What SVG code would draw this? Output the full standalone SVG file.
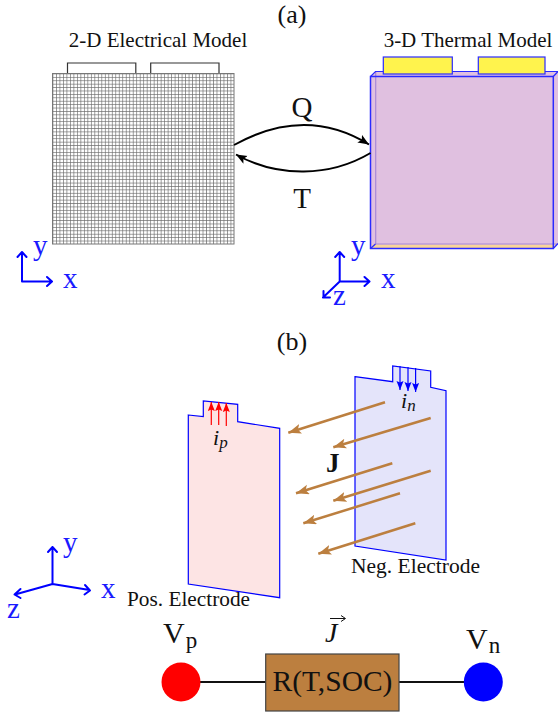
<svg xmlns="http://www.w3.org/2000/svg" width="558" height="716" viewBox="0 0 558 716">
<style>
text{font-family:"Liberation Serif","Times New Roman",serif;fill:#111}
.ax{fill:#1a1aff;font-size:29px}
.axl{fill:none;stroke:#0000ff;stroke-width:2;stroke-linejoin:round;stroke-linecap:round}
.t{fill:none;stroke:#bc7f3f;stroke-width:2.500;marker-end:url(#tan)}
.b{stroke:#0000ff;stroke-width:1.200;marker-end:url(#blue)}
.r{stroke:#ff0000;stroke-width:1.200;marker-end:url(#red)}
.el{stroke:#0000ff;stroke-width:1.200}
.c{fill:none;stroke:#000;stroke-width:2}
.tab3{fill:#fff34d;stroke:#2a2aff;stroke-width:1.200}
</style>
<defs>
<marker id="tan" markerUnits="userSpaceOnUse" markerWidth="16" markerHeight="12" refX="13" refY="5" orient="auto"><path d="M0 0L13 5L0 10L3 5Z" fill="#bc7f3f"/></marker>
<marker id="blue" markerUnits="userSpaceOnUse" markerWidth="10" markerHeight="12" refX="9" refY="3.500" orient="auto"><path d="M0 0L9 3.500L0 7L1.500 3.500Z" fill="#0000ff"/></marker>
<marker id="red" markerUnits="userSpaceOnUse" markerWidth="10" markerHeight="12" refX="9" refY="3.500" orient="auto"><path d="M0 0L9 3.500L0 7L1.500 3.500Z" fill="#ff0000"/></marker>
<marker id="blk" markerUnits="userSpaceOnUse" markerWidth="14" markerHeight="12" refX="11" refY="4.500" orient="auto"><path d="M0 0L11 4.500L0 9L2.500 4.500Z" fill="#000"/></marker>
<pattern id="grid" patternUnits="userSpaceOnUse" x="52.500" y="73.500" width="3.490" height="3.410"><path d="M0 0H3.490M0 0V3.410" fill="none" stroke="#6a6a6a" stroke-width="1.300"/></pattern>
</defs>
<text x="292" y="23" font-size="26" text-anchor="middle">(a)</text>
<text x="292" y="350" font-size="26" text-anchor="middle">(b)</text>

<g id="electrical-model">
<text x="158" y="47" font-size="21" text-anchor="middle">2-D Electrical Model</text>
<path d="M67.500 73V63H135.800V73M150.700 73V63H219V73" fill="none" stroke="#333" stroke-width="1.200"/>
<rect x="52.500" y="73.500" width="181.500" height="170.500" fill="url(#grid)" stroke="#777" stroke-width="1"/>
</g>

<g id="thermal-model">
<text x="468" y="47" font-size="21" text-anchor="middle">3-D Thermal Model</text>
<path d="M370.500 76.500L375.500 71.500H558V243.500L553 248.500H370.500Z" fill="#e0c0e0"/>
<path d="M372 244.500H555V248H372Z" fill="#f8d49a"/>
<path d="M375.700 244H558M375.700 71.500V244" fill="none" stroke="#a888d8" stroke-width="1.200"/>
<path d="M370.500 76.500L375.500 71.500H558M370.500 248.500L375.500 244M553.300 76.500L558 71.500M553.300 248.500L558 243.500" fill="none" stroke="#2a2aff" stroke-width="1.200"/>
<rect x="370.500" y="76.500" width="182.800" height="172" fill="none" stroke="#2a2aff" stroke-width="1.500"/>
<rect class="tab3" x="383.300" y="57" width="69" height="17"/>
<rect class="tab3" x="478.300" y="57" width="66.700" height="17"/>
</g>

<g id="connectors">
<path class="c" d="M234 145C270 125 318 113 369 144.500" marker-end="url(#blk)"/>
<path class="c" d="M370.500 153C330 177 278 178 236 154.500" marker-end="url(#blk)"/>
<path d="M200 682H266M399 682H464" fill="none" stroke="#111" stroke-width="2"/>
</g>
<text x="302" y="117" font-size="29" text-anchor="middle">Q</text>
<text x="302" y="208" font-size="29" text-anchor="middle">T</text>

<g id="axes-a-left">
<path class="axl" d="M22 281.500V252.500M17.500 257L22 252L26.500 257M22 281.500H51.500M47 277L52 281.500L47 286"/>
<text class="ax" x="33" y="255">y</text>
<text class="ax" x="63" y="288">x</text>
</g>
<g id="axes-a-right">
<path class="axl" d="M339.700 281.500V252.500M335.200 257L339.700 252L344.200 257M339.700 281.500H369M364.500 277L369.500 281.500L364.500 286M339.700 281.500L323 297.500M323.500 291V297.500H330"/>
<text class="ax" x="351" y="255">y</text>
<text class="ax" x="381" y="288">x</text>
<text class="ax" x="333" y="305">z</text>
</g>

<g id="neg-electrode">
<path class="el" d="M355 376.700L392.700 381.700V366L430.700 371V387.300L446 390.700V560L355 546Z" fill="#e4e4fa"/>
<path class="b" d="M400 366V390"/><path class="b" d="M408 367V391"/><path class="b" d="M415.600 368V392"/>
<text x="401" y="408" font-size="22" font-style="italic">i<tspan font-size="17" dy="3">n</tspan></text>
<text x="351" y="573" font-size="21.500">Neg. Electrode</text>
</g>
<g id="pos-electrode">
<path class="el" d="M188.300 415L203.300 416.700V401L237.700 404.300V421.700L279.700 428.300V597.700L188.300 584Z" fill="#fde4e4"/>
<path class="r" d="M211.300 425V402"/><path class="r" d="M218.700 425V402"/><path class="r" d="M226.300 426V403"/>
<text x="213" y="445" font-size="22" font-style="italic">i<tspan font-size="17" dy="3">p</tspan></text>
<text x="127" y="606" font-size="21.300">Pos. Electrode</text>
</g>

<g id="current-arrows">
<path class="t" d="M385 402.300L288.300 432.700"/>
<path class="t" d="M430.700 418L333.300 447.300"/>
<path class="t" d="M392.300 463.300L296 493.300"/>
<path class="t" d="M430.700 470.700L333.300 500.700"/>
<path class="t" d="M400 493.300L303.300 523.300"/>
<path class="t" d="M415.300 523.300L318.300 553.700"/>
</g>
<text x="326" y="472" font-size="27" font-weight="bold">J</text>

<g id="axes-b">
<path class="axl" d="M52.500 584V547M48 552L52.500 547L57 552M52.500 584L89.500 590M85 585L90 590.500L84.500 594.500M52.500 584L15 594.500M20.500 589L14.500 594.500L20.500 598"/>
<text class="ax" x="63" y="552">y</text>
<text class="ax" x="101" y="598">x</text>
<text class="ax" x="7" y="618">z</text>
</g>

<g id="node-vp">
<circle cx="181" cy="682" r="19.500" fill="#ff0000"/>
<text x="163" y="643" font-size="30">V<tspan font-size="23" dx="1" dy="5">p</tspan></text>
</g>
<g id="node-r">
<rect x="265.700" y="654" width="133.300" height="57" fill="#bc7f3f" stroke="#444" stroke-width="1.200"/>
<text x="332.500" y="691" font-size="29.500" text-anchor="middle">R(T,SOC)</text>
<text x="325" y="642" font-size="28" font-style="italic">J</text>
<path d="M330 618.500H345M341 615.500L345.500 618.500L341 621.500" fill="none" stroke="#111" stroke-width="1"/>
</g>
<g id="node-vn">
<circle cx="483.300" cy="682" r="19.500" fill="#0000ff"/>
<text x="466" y="649" font-size="30">V<tspan font-size="23" dx="1" dy="4">n</tspan></text>
</g>
</svg>
